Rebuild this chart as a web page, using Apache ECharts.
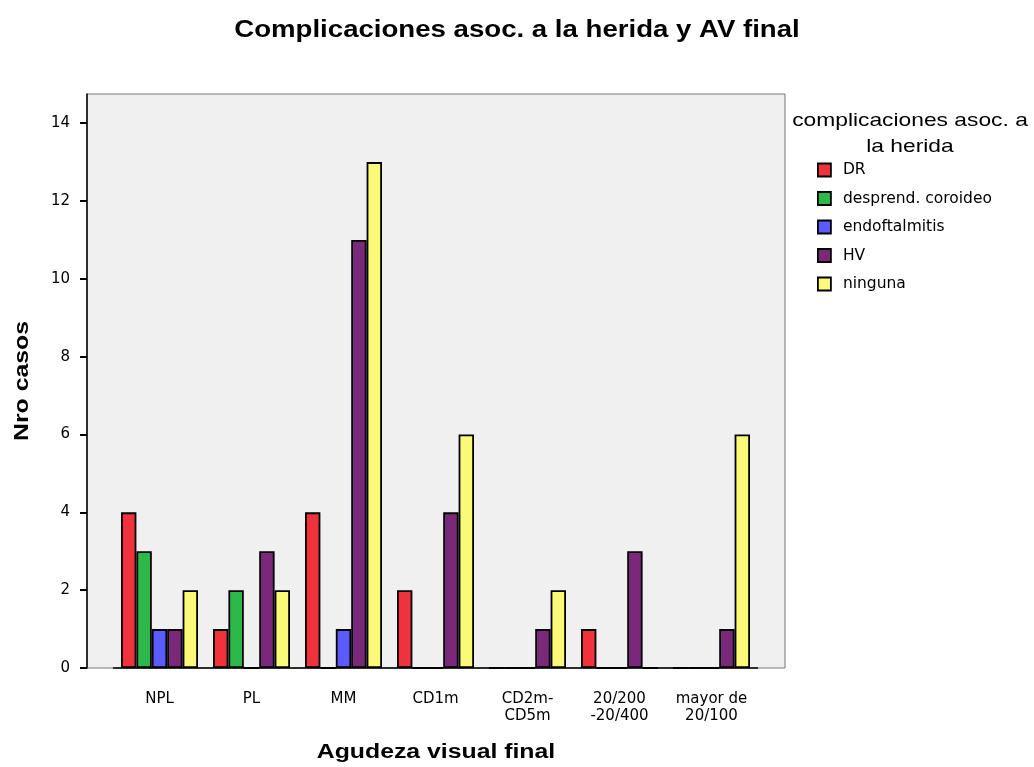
<!DOCTYPE html>
<html>
<head>
<meta charset="utf-8">
<script src="https://cdn.jsdelivr.net/npm/echarts@6/dist/echarts.min.js"></script>
<style>
  html, body { margin: 0; padding: 0; background: #fff; }
  #chart { width: 1034px; height: 767px; }
</style>
</head>
<body>
<div id="chart"></div>
<script>
// categories (Agudeza visual final)
const categories = ['NPL', 'PL', 'MM', 'CD1m', 'CD2m-\nCD5m', '20/200\n-20/400', 'mayor de\n20/100']

// complicaciones asoc. a la herida
const seriesNames = ['DR', 'desprend. coroideo', 'endoftalmitis', 'HV', 'ninguna']
const dr = [4, 1, 4, 2, 0, 1, 0]
const desprend = [3, 2, 0, 0, 0, 0, 0]
const endoft = [1, 0, 1, 0, 0, 0, 0]
const hv = [1, 3, 11, 4, 1, 3, 1]
const ninguna = [2, 2, 13, 6, 2, 0, 6]
const seriesValues = [dr, desprend, endoft, hv, ninguna]
const colors = ['#ef323c', '#2db84a', '#5b5bff', '#7a287a', '#fafa78']

const yTicks = [0, 2, 4, 6, 8, 10, 12, 14]
const yMax = 14.75

const chart = echarts.init(document.getElementById('chart'))
const font = '"Liberation Sans", Arial, sans-serif'
const wideFont = '"DejaVu Sans", sans-serif'

const option = {
  animation: false,
  textStyle: { fontFamily: font },
  grid: [
    { left: 87, right: 249, top: 94, bottom: 99, show: true, backgroundColor: '#f0f0f0', borderColor: '#777', borderWidth: 1 },
    { left: 113.5, right: 276.5, top: 94, bottom: 99 }
  ],
  xAxis: [
    { gridIndex: 0, type: 'category', data: categories, show: false },
    {
      gridIndex: 1,
      type: 'category',
      data: categories,
      axisLine: { lineStyle: { color: '#000', width: 1.5 } },
      axisTick: { alignWithLabel: true, interval: 0, length: 7, lineStyle: { color: '#000', width: 2 } },
      axisLabel: { interval: 0, hideOverlap: false, color: '#000', fontSize: 15, fontFamily: wideFont, margin: 23, lineHeight: 17 }
    }
  ],
  yAxis: [
    {
      gridIndex: 0,
      type: 'value',
      min: 0,
      max: yMax,
      interval: 2,
      axisLine: { show: true, lineStyle: { color: '#000', width: 1.5 } },
      axisTick: { show: true, length: 7, customValues: yTicks, lineStyle: { color: '#000', width: 2 } },
      axisLabel: { color: '#000', fontSize: 15, fontFamily: wideFont, margin: 17, customValues: yTicks },
      splitLine: { show: false }
    },
    { gridIndex: 1, type: 'value', min: 0, max: yMax, show: false }
  ],
  legend: {
    orient: 'vertical',
    left: 812,
    top: 157,
    itemWidth: 13,
    itemHeight: 13,
    itemGap: 12.5,
    icon: 'rect',
    data: seriesNames,
    textStyle: { color: '#000', fontSize: 15.5, lineHeight: 16, fontFamily: wideFont, padding: [0, 0, 0, 7] },
    itemStyle: { borderColor: '#000', borderWidth: 1.8 }
  },
  graphic: [
    {
      type: 'text', x: 517, y: 31, scaleX: 1.2,
      style: { text: 'Complicaciones asoc. a la herida y AV final', font: 'bold 23px ' + font, fill: '#000', textAlign: 'center', textVerticalAlign: 'middle' }
    },
    {
      type: 'text', x: 910, y: 134, scaleX: 1.2,
      style: { text: 'complicaciones asoc. a\nla herida', font: '19px ' + font, lineHeight: 26, fill: '#000', textAlign: 'center', textVerticalAlign: 'middle' }
    },
    {
      type: 'text', x: 436, y: 752, scaleX: 1.24,
      style: { text: 'Agudeza visual final', font: 'bold 20px ' + font, fill: '#000', textAlign: 'center', textVerticalAlign: 'middle' }
    },
    {
      type: 'text', x: 22, y: 381, rotation: Math.PI / 2, scaleX: 1.24,
      style: { text: 'Nro casos', font: 'bold 20px ' + font, fill: '#000', textAlign: 'center', textVerticalAlign: 'middle' }
    }
  ],
  series: seriesNames.map((name, i) => ({
    name,
    type: 'bar',
    xAxisIndex: 1,
    yAxisIndex: 1,
    data: seriesValues[i],
    barGap: '0%',
    barCategoryGap: '16.3%',
    itemStyle: { color: colors[i], borderColor: '#000', borderWidth: 1.8 }
  }))
}

chart.setOption(option)
</script>
</body>
</html>
